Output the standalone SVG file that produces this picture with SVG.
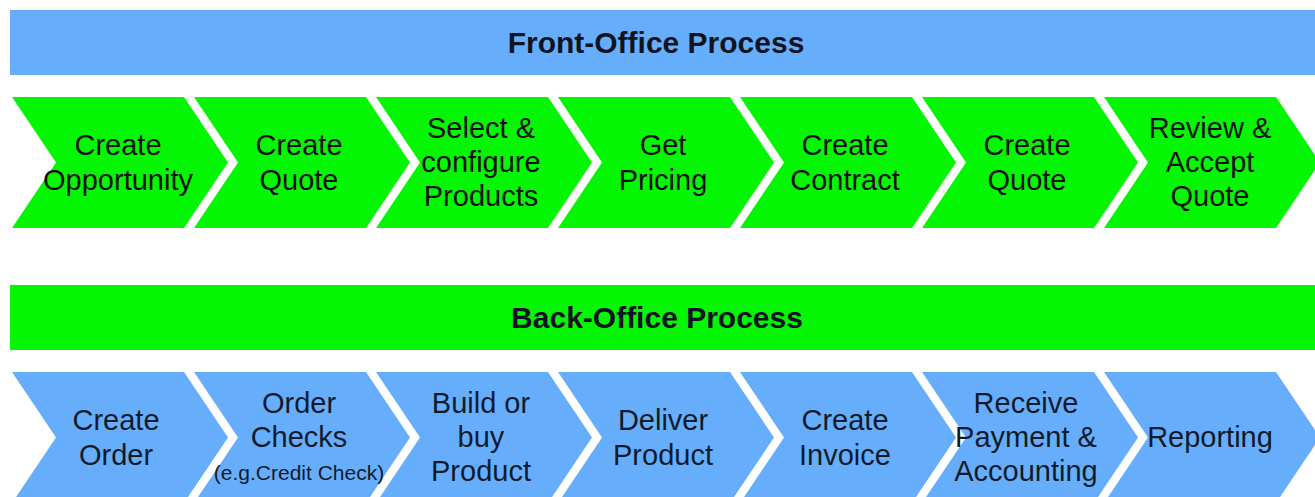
<svg xmlns="http://www.w3.org/2000/svg" width="1315" height="497" viewBox="0 0 1315 497">
<defs>
<style>
.bg{fill:#ffffff}
.blue{fill:#66AEFB}
.green{fill:#04F604}
.ban{font-family:"Liberation Sans",Arial,sans-serif;font-weight:bold;font-size:30px;text-anchor:middle;fill:#0f1420}
.t{font-family:"Liberation Sans",Arial,sans-serif;font-size:29px;text-anchor:middle;fill:#111}
.tb{font-family:"Liberation Sans",Arial,sans-serif;font-size:29px;text-anchor:middle;fill:#0f1b2b}
.s{font-family:"Liberation Sans",Arial,sans-serif;font-size:21px;text-anchor:middle;fill:#0f1b2b}
</style>
<path id="chev" d="M0,0 L172,0 L216,65.5 L172,131 L0,131 L44,65.5 Z"/>
</defs>
<rect class="bg" x="0" y="0" width="1315" height="497"/>

<g id="front-banner">
<rect class="blue" x="10" y="10" width="1305" height="65"/>
<text class="ban" x="656" y="53">Front-Office Process</text>
</g>

<g id="front-1"><use href="#chev" class="green" x="12" y="97"/>
<text class="t" x="118" y="155">Create</text><text class="t" x="118" y="190">Opportunity</text></g>
<g id="front-2"><use href="#chev" class="green" x="194" y="97"/>
<text class="t" x="299" y="155">Create</text><text class="t" x="299" y="190">Quote</text></g>
<g id="front-3"><use href="#chev" class="green" x="376" y="97"/>
<text class="t" x="481" y="138">Select &amp;</text><text class="t" x="481" y="172">configure</text><text class="t" x="481" y="206">Products</text></g>
<g id="front-4"><use href="#chev" class="green" x="558" y="97"/>
<text class="t" x="663" y="155">Get</text><text class="t" x="663" y="190">Pricing</text></g>
<g id="front-5"><use href="#chev" class="green" x="740" y="97"/>
<text class="t" x="845" y="155">Create</text><text class="t" x="845" y="190">Contract</text></g>
<g id="front-6"><use href="#chev" class="green" x="922" y="97"/>
<text class="t" x="1027" y="155">Create</text><text class="t" x="1027" y="190">Quote</text></g>
<g id="front-7"><use href="#chev" class="green" x="1104" y="97"/>
<text class="t" x="1210" y="138">Review &amp;</text><text class="t" x="1210" y="172">Accept</text><text class="t" x="1210" y="206">Quote</text></g>

<g id="back-banner">
<rect class="green" x="10" y="285" width="1305" height="65"/>
<text class="ban" x="657" y="328">Back-Office Process</text>
</g>

<g id="back-1"><use href="#chev" class="blue" x="12" y="372"/>
<text class="tb" x="116" y="430">Create</text><text class="tb" x="116" y="465">Order</text></g>
<g id="back-2"><use href="#chev" class="blue" x="194" y="372"/>
<text class="tb" x="299" y="413">Order</text><text class="tb" x="299" y="447">Checks</text><text class="s" x="299" y="480">(e.g.Credit Check)</text></g>
<g id="back-3"><use href="#chev" class="blue" x="376" y="372"/>
<text class="tb" x="481" y="413">Build or</text><text class="tb" x="481" y="447">buy</text><text class="tb" x="481" y="481">Product</text></g>
<g id="back-4"><use href="#chev" class="blue" x="558" y="372"/>
<text class="tb" x="663" y="430">Deliver</text><text class="tb" x="663" y="465">Product</text></g>
<g id="back-5"><use href="#chev" class="blue" x="740" y="372"/>
<text class="tb" x="845" y="430">Create</text><text class="tb" x="845" y="465">Invoice</text></g>
<g id="back-6"><use href="#chev" class="blue" x="922" y="372"/>
<text class="tb" x="1026" y="413">Receive</text><text class="tb" x="1026" y="447">Payment &amp;</text><text class="tb" x="1026" y="481">Accounting</text></g>
<g id="back-7"><use href="#chev" class="blue" x="1104" y="372"/>
<text class="tb" x="1210" y="447">Reporting</text></g>

<g id="connectors"></g>
</svg>
